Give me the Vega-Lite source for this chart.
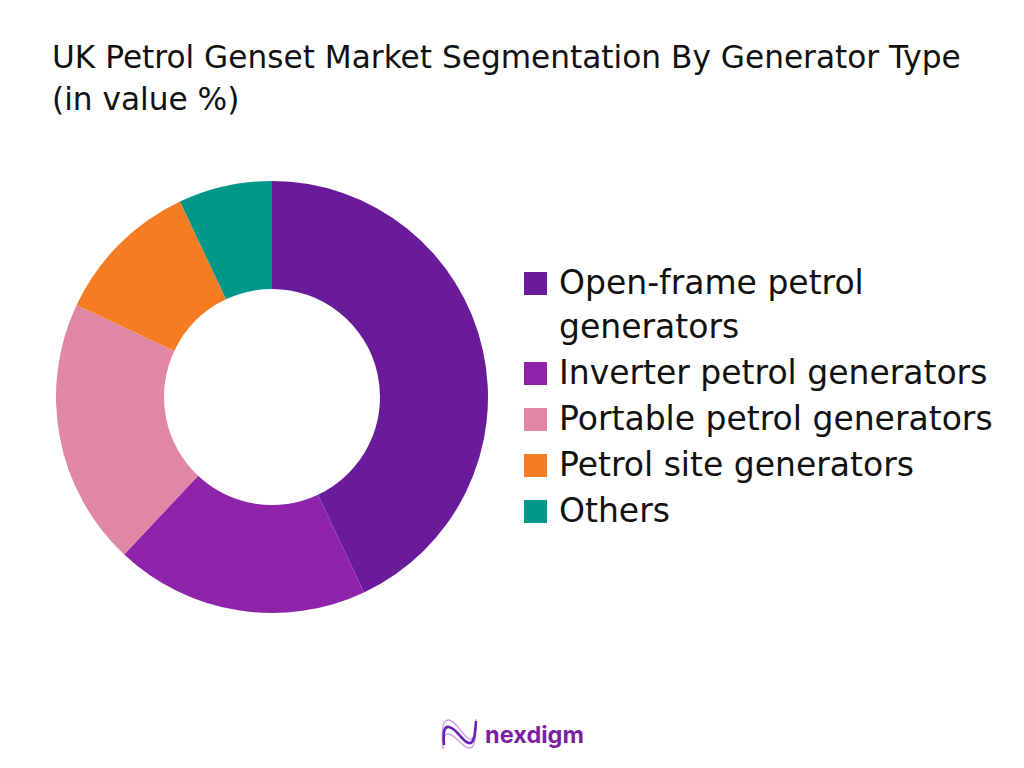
{
  "$schema": "https://vega.github.io/schema/vega-lite/v6.json",
  "width": 432,
  "height": 432,
  "autosize": "none",
  "padding": {"left": 56, "top": 181, "right": 536, "bottom": 155},
  "background": "white",
  "config": {"view": {"stroke": null}, "style": {"guide-label": {"lineHeight": 44}}},
  "title": {
    "text": ["UK Petrol Genset Market Segmentation By Generator Type", "(in value %)"],
    "anchor": "start",
    "frame": "group",
    "dx": -4,
    "offset": 65,
    "font": "DejaVu Sans",
    "fontSize": 31.2,
    "fontWeight": 400,
    "lineHeight": 42,
    "color": "#111111"
  },
  "layer": [
    {
      "data": {
        "values": [
          {"type": "Open-frame petrol generators", "share": 43, "rank": 1},
          {"type": "Inverter petrol generators", "share": 19, "rank": 2},
          {"type": "Portable petrol generators", "share": 20, "rank": 3},
          {"type": "Petrol site generators", "share": 11, "rank": 4},
          {"type": "Others", "share": 7, "rank": 5}
        ]
      },
      "mark": {"type": "arc", "radius": 216, "radius2": 108},
      "encoding": {
        "theta": {"field": "share", "type": "quantitative", "stack": true},
        "order": {"field": "rank", "type": "ordinal"},
        "color": {
          "field": "type",
          "type": "nominal",
          "sort": [
            "Open-frame petrol generators",
            "Inverter petrol generators",
            "Portable petrol generators",
            "Petrol site generators",
            "Others"
          ],
          "scale": {
            "domain": [
              "Open-frame petrol generators",
              "Inverter petrol generators",
              "Portable petrol generators",
              "Petrol site generators",
              "Others"
            ],
            "range": ["#6A1B9A", "#8E24AA", "#DF87A4", "#F57C23", "#009688"]
          },
          "legend": {
            "title": null,
            "orient": "none",
            "legendX": 463,
            "legendY": 86,
            "symbolType": "square",
            "symbolSize": 529,
            "symbolStrokeWidth": 0,
            "labelFont": "DejaVu Sans",
            "labelFontSize": 33,
            "labelColor": "#111111",
            "labelLimit": 500,
            "labelOffset": 7,
            "rowPadding": 12,
            "labelExpr": "datum.label == 'Open-frame petrol generators' ? ['Open-frame petrol', 'generators'] : datum.label"
          }
        }
      }
    },
    {
      "data": {"values": [{"brand": "nexdigm"}]},
      "layer": [
        {
          "mark": {
            "type": "point",
            "size": 4,
            "opacity": 1,
            "color": "#C9A0E6",
            "strokeWidth": 1.4,
            "shape": "M171 352C169 330 171 322 177 323C186 325 190 340 198 342C203 343 204 335 204 322M171 352C171 342 172 336 177 337C186 340 190 350 197 351C203 352 204 340 204 322"
          }
        },
        {
          "mark": {
            "type": "point",
            "size": 4,
            "opacity": 1,
            "color": "#6A1FB5",
            "strokeWidth": 2.6,
            "shape": "M172 348C171 335 172 329 177 330C186 332 190 345 197 346C202 347 203 338 204 324"
          }
        },
        {
          "mark": {
            "type": "text",
            "dx": 262.5,
            "dy": 339,
            "font": "Inter",
            "fontSize": 23.5,
            "fontWeight": 700,
            "color": "#7B1FA2"
          },
          "encoding": {"text": {"field": "brand"}}
        }
      ]
    }
  ]
}
